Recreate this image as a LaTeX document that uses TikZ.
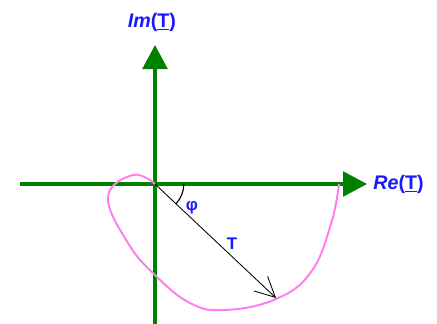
\documentclass[tikz,border=0pt]{standalone}
\usepackage{fontspec}
\setmainfont{Liberation Sans}
\usetikzlibrary{arrows.meta}
\definecolor{axisgreen}{RGB}{0,128,0}
\definecolor{locus}{RGB}{255,125,240}
\definecolor{lblblue}{RGB}{25,25,255}

\begin{document}
\begin{tikzpicture}[>=Latex]
  \useasboundingbox (-3.875,-3.475) rectangle (7.05,4.6);
  \tikzset{axis/.style={axisgreen,line width=2.2pt,-{Triangle[length=0.6cm,width=0.62cm]}},
    axlabel/.style={lblblue,font=\bfseries\fontsize{14}{16}\selectfont,inner sep=1pt},
    smlabel/.style={lblblue,font=\bfseries\fontsize{12}{14}\selectfont,inner sep=1pt}}
  % axes
  \coordinate (O) at (0,0);
  \coordinate (xl) at (-3.375,0);
  \coordinate (xr) at (5.3,0);
  \coordinate (yb) at (0,-3.6);
  \coordinate (yt) at (0,3.475);
  \draw[axis] (xl)--(xr);
  \draw[axis] (yb)--(yt);
  \node[axlabel,right=0.12cm] (re) at (xr) {\textit{Re}(\underline{T})};
  \node[axlabel] (im) at (-0.075,4.05) {\textit{Im}(\underline{T})};
  % locus of T
  \draw[locus,line width=1.4pt] plot[smooth,tension=0.7] coordinates {(0,0) (-0.55,0.225) (-1.175,-0.325)
    (-0.675,-1.475) (0,-2.275) (0.875,-2.975) (1.75,-3.15) (3.025,-2.875)
    (3.9,-2.2) (4.4,-1.0) (4.6,0)};
  % phasor and angle
  \coordinate (P) at (3.025,-2.85);
  \draw[-{Straight Barb[length=5mm,width=5mm]},line width=0.6pt] (O)--(P);
  \draw[line width=0.8pt] ([shift={(0:0.72)}]O) arc[start angle=0,end angle=-43.3,radius=0.72];
  \node[smlabel] (phi) at (0.925,-0.6) {φ};
  \node[smlabel] (T) at (1.925,-1.5) {T};
\end{tikzpicture}
\end{document}
